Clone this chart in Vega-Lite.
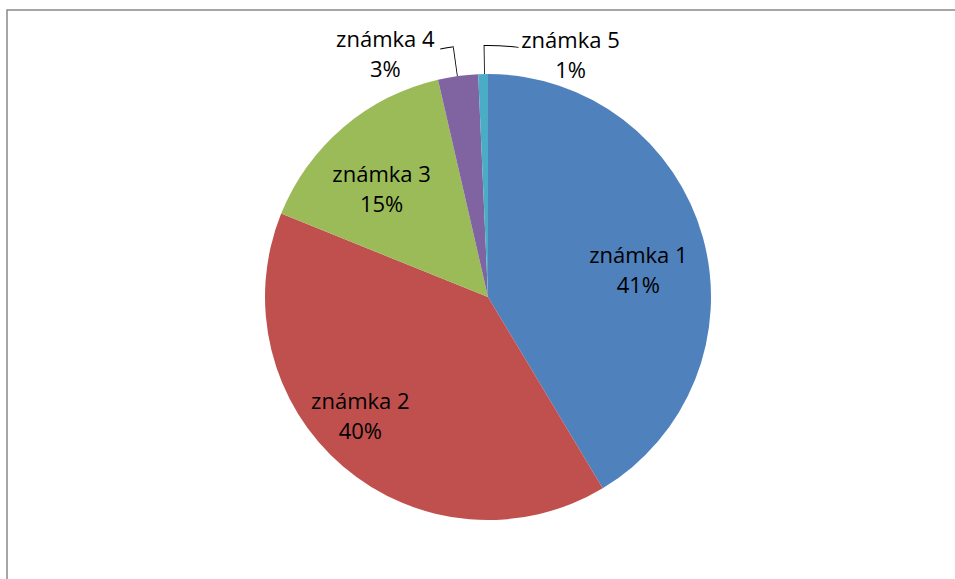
{
  "$schema": "https://vega.github.io/schema/vega-lite/v6.json",
  "width": 962,
  "height": 574,
  "padding": {"left": 7, "top": 10, "right": 0, "bottom": 0},
  "autosize": {"type": "none"},
  "background": "white",
  "view": {"stroke": "#898989", "strokeWidth": 1.5, "fill": "white"},
  "data": {
    "values": [
      {"n": 1, "grade": "známka 1", "value": 41.4, "label": "známka 1\n41%"},
      {"n": 2, "grade": "známka 2", "value": 39.7, "label": "známka 2\n40%"},
      {"n": 3, "grade": "známka 3", "value": 15.3, "label": "známka 3\n15%"},
      {"n": 4, "grade": "známka 4", "value": 2.9, "label": "známka 4\n3%"},
      {"n": 5, "grade": "známka 5", "value": 0.7, "label": "známka 5\n1%"}
    ]
  },
  "layer": [
    {
      "mark": {"type": "arc", "outerRadius": 223},
      "encoding": {
        "theta": {"field": "value", "type": "quantitative", "stack": true},
        "order": {"field": "n", "type": "quantitative"},
        "color": {
          "field": "grade",
          "type": "nominal",
          "scale": {
            "domain": ["známka 1", "známka 2", "známka 3", "známka 4", "známka 5"],
            "range": ["#4F81BD", "#C0504D", "#9BBB59", "#8064A2", "#4BACC6"]
          },
          "legend": null
        }
      }
    },
    {
      "mark": {"type": "text", "font": "Open Sans", "fontSize": 22, "lineBreak": "\n", "lineHeight": 30, "align": "center", "baseline": "middle", "radius": 155, "dy": 0, "dx": 1},
      "encoding": {
        "theta": {"field": "value", "type": "quantitative", "stack": true},
        "order": {"field": "n", "type": "quantitative"},
        "text": {"field": "label"},
        "color": {"value": "#000000"},
        "opacity": {"condition": {"test": "datum.n == 1", "value": 1}, "value": 0}
      }
    },
    {
      "mark": {"type": "text", "font": "Open Sans", "fontSize": 22, "lineBreak": "\n", "lineHeight": 30, "align": "center", "baseline": "middle", "radius": 175, "dy": -28, "dx": -14},
      "encoding": {
        "theta": {"field": "value", "type": "quantitative", "stack": true},
        "order": {"field": "n", "type": "quantitative"},
        "text": {"field": "label"},
        "color": {"value": "#000000"},
        "opacity": {"condition": {"test": "datum.n == 2", "value": 1}, "value": 0}
      }
    },
    {
      "mark": {"type": "text", "font": "Open Sans", "fontSize": 22, "lineBreak": "\n", "lineHeight": 30, "align": "center", "baseline": "middle", "radius": 150, "dy": -8, "dx": -9},
      "encoding": {
        "theta": {"field": "value", "type": "quantitative", "stack": true},
        "order": {"field": "n", "type": "quantitative"},
        "text": {"field": "label"},
        "color": {"value": "#000000"},
        "opacity": {"condition": {"test": "datum.n == 3", "value": 1}, "value": 0}
      }
    },
    {
      "mark": {"type": "text", "font": "Open Sans", "fontSize": 22, "lineBreak": "\n", "lineHeight": 30, "align": "center", "baseline": "middle", "radius": 250, "dy": -9, "dx": -69},
      "encoding": {
        "theta": {"field": "value", "type": "quantitative", "stack": true},
        "order": {"field": "n", "type": "quantitative"},
        "text": {"field": "label"},
        "color": {"value": "#000000"},
        "opacity": {"condition": {"test": "datum.n == 4", "value": 1}, "value": 0}
      }
    },
    {
      "mark": {"type": "text", "font": "Open Sans", "fontSize": 22, "lineBreak": "\n", "lineHeight": 30, "align": "center", "baseline": "middle", "radius": 250, "dy": -6, "dx": 88},
      "encoding": {
        "theta": {"field": "value", "type": "quantitative", "stack": true},
        "order": {"field": "n", "type": "quantitative"},
        "text": {"field": "label"},
        "color": {"value": "#000000"},
        "opacity": {"condition": {"test": "datum.n == 5", "value": 1}, "value": 0}
      }
    },
    {
      "data": {"values": [{}]},
      "mark": {"type": "arc", "theta": 6.14356, "theta2": 6.14705, "radius": 252, "radius2": 223, "fill": "#000000"},
      "encoding": {}
    },
    {
      "data": {"values": [{}]},
      "mark": {"type": "arc", "theta": 6.09293, "theta2": 6.14705, "radius": 253, "radius2": 252, "fill": "#000000"},
      "encoding": {}
    },
    {
      "data": {"values": [{}]},
      "mark": {"type": "arc", "theta": 6.26573, "theta2": 6.26922, "radius": 251, "radius2": 223, "fill": "#000000"},
      "encoding": {}
    },
    {
      "data": {"values": [{}]},
      "mark": {"type": "arc", "theta": 6.26573, "theta2": 6.40536, "radius": 252, "radius2": 251, "fill": "#000000"},
      "encoding": {}
    }
  ]
}
